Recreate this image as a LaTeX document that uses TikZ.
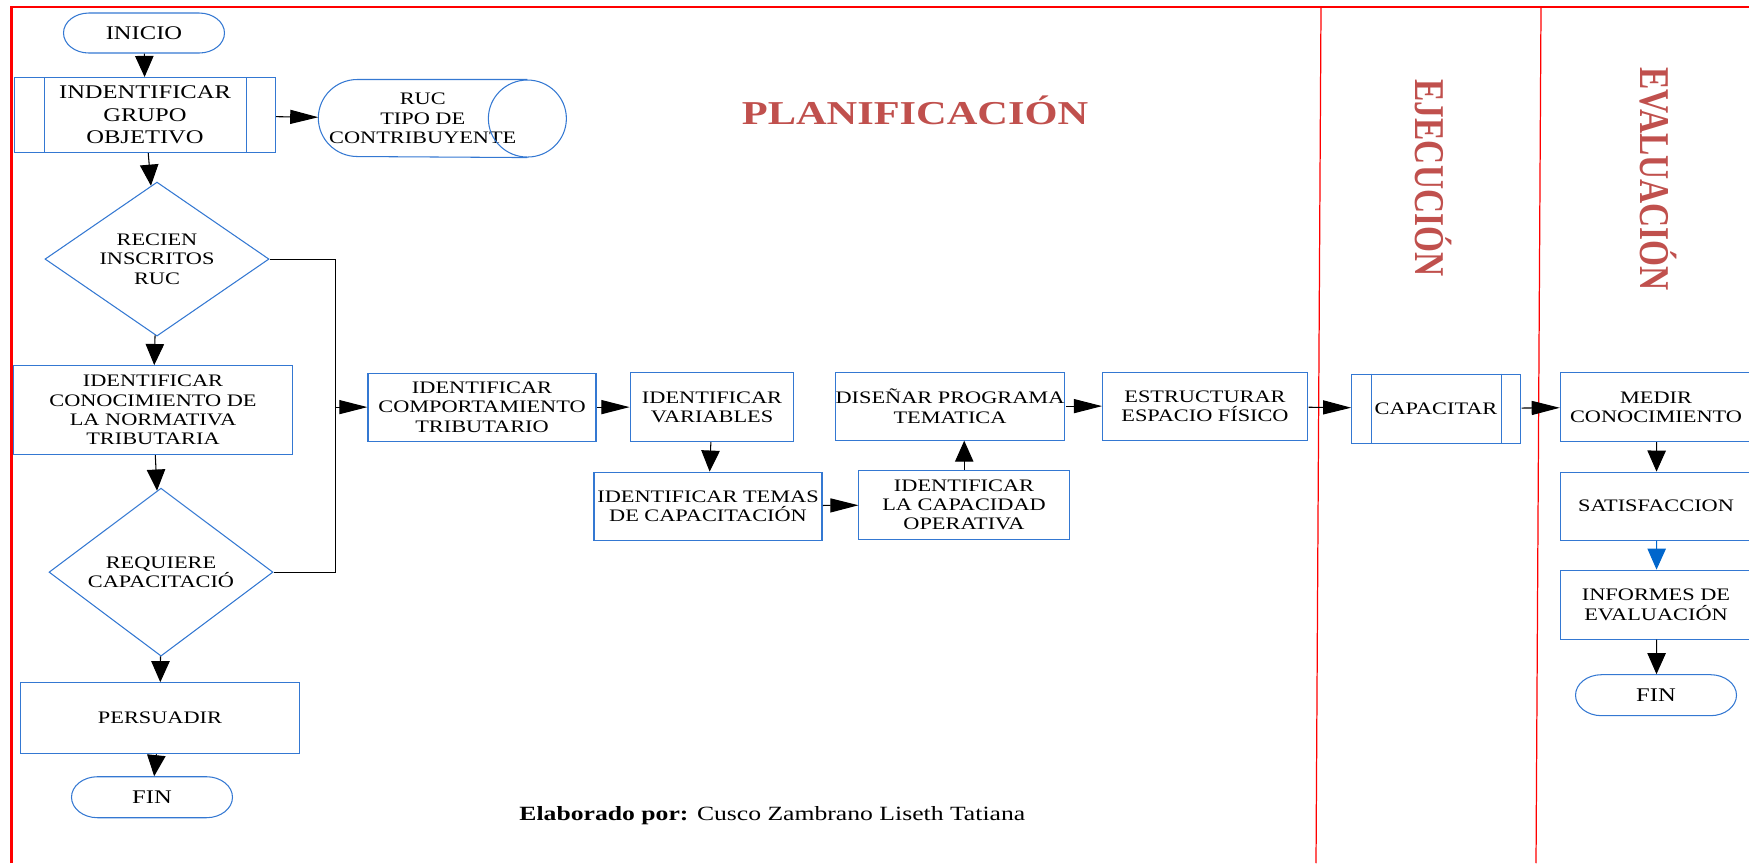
\documentclass[tikz,border=0pt]{standalone}
\usepackage{fontspec}
\setmainfont{Liberation Serif}
\usetikzlibrary{arrows.meta,shapes.geometric,shapes.misc,calc}

\definecolor{boxblue}{RGB}{52,120,210}
\definecolor{linkblue}{RGB}{0,102,204}
\definecolor{phasered}{RGB}{192,80,77}

\tikzset{
  box/.style={draw=boxblue, line width=0.6pt, align=center, inner sep=0pt, font=\fontsize{10}{11}\selectfont},
  term/.style={box, rounded rectangle, font=\fontsize{11}{12}\selectfont, minimum width=2.535cm, minimum height=0.8cm},
  decide/.style={box, diamond, aspect=1.15, minimum width=3.53cm},
  phase/.style={text=phasered, font=\fontsize{19}{20}\selectfont\bfseries, inner sep=0pt},
  arrh/.style={-{Triangle[length=16pt,width=8pt]}, line width=0.6pt},
  arrv/.style={-{Triangle[length=12pt,width=10.5pt]}, line width=0.6pt},
}

\begin{document}
\begin{tikzpicture}[x=0.015748cm, y=-0.02cm, xscale=1.27, every node/.append style={transform shape}]
  \useasboundingbox (0,0) rectangle (1749,863);
  % frame and phase dividers
  \draw[red, line width=1.2pt] (11.5,863) -- (11.5,7) -- (1760,7);
  \draw[red, line width=0.7pt] (1321,7) -- (1316,863)
                               (1541,7) -- (1536,863);
  % phase titles
  \node[phase, anchor=base] (plan) at (915,124) {PLANIFICACIÓN};
  \node[phase, anchor=base, rotate=-90] (ejec) at (1415,178) {EJECUCIÓN};
  \node[phase, anchor=base, rotate=-90] (eval) at (1640,179) {EVALUACIÓN};

  % planificacion
  \node[term] (inicio) at (144,33) {INICIO};
  \node[box, minimum width=4.11cm, minimum height=1.5cm, font=\fontsize{11}{12.8}\selectfont] (grupo) at (145,115) {INDENTIFICAR\\GRUPO\\OBJETIVO};
  \draw[boxblue, line width=0.6pt] ($(grupo.north west)+(31,0)$) -- ($(grupo.south west)+(31,0)$)
                                   ($(grupo.north east)-(30,0)$) -- ($(grupo.south east)-(30,0)$);
  \node[box, draw=none, minimum width=3.27cm, minimum height=1.54cm] (ruc) at (422.75,118.5) {RUC\\TIPO DE\\CONTRIBUYENTE};
  \draw[boxblue, line width=0.6pt] (ruc.north east) -- ($(ruc.north west)+(39,0)$)
        arc[start angle=-90, end angle=-270, x radius=39, y radius=38.5] -- (ruc.south east);
  \draw[boxblue, line width=0.6pt] (ruc.east) ellipse[x radius=39, y radius=38.5];
  \node[decide, minimum height=3.08cm] (recien) at (157,259) {RECIEN\\INSCRITOS\\RUC};
  \node[box, minimum width=4.39cm, minimum height=1.78cm] (conoc) at (153,410) {IDENTIFICAR\\CONOCIMIENTO DE\\LA NORMATIVA\\TRIBUTARIA};
  \node[decide, minimum height=3.36cm] (requiere) at (161,572) {REQUIERE\\CAPACITACIÓ};
  \node[box, minimum width=4.39cm, minimum height=1.42cm] (persuadir) at (160,718) {PERSUADIR};
  \node[term, minimum height=0.82cm] (fin1) at (152,797) {FIN};

  \coordinate (joint) at (335,407);
  \node[box, minimum width=3.59cm, minimum height=1.36cm] (comport) at (482,407) {IDENTIFICAR\\COMPORTAMIENTO\\TRIBUTARIO};
  \node[box, minimum width=2.58cm, minimum height=1.38cm] (variables) at (712,407) {IDENTIFICAR\\VARIABLES};
  \node[box, minimum width=3.59cm, minimum height=1.36cm] (temas) at (708,506) {IDENTIFICAR TEMAS\\DE CAPACITACIÓN};
  \node[box, minimum width=3.31cm, minimum height=1.38cm] (capacidad) at (964,504.5) {IDENTIFICAR\\LA CAPACIDAD\\OPERATIVA};
  \node[box, minimum width=3.62cm, minimum height=1.36cm] (disenar) at (950,406) {DISEÑAR PROGRAMA\\TEMATICA};
  \node[box, minimum width=3.23cm, minimum height=1.36cm] (estruct) at (1205,406) {ESTRUCTURAR\\ESPACIO FÍSICO};

  % ejecucion
  \node[box, minimum width=2.66cm, minimum height=1.38cm] (capacitar) at (1436,408.5) {CAPACITAR};
  \draw[boxblue, line width=0.6pt] ($(capacitar.north west)+(20,0)$) -- ($(capacitar.south west)+(20,0)$)
                                   ($(capacitar.north east)-(20,0)$) -- ($(capacitar.south east)-(20,0)$);

  % evaluacion
  \node[box, minimum width=3.02cm, minimum height=1.38cm] (medir) at (1656,407) {MEDIR\\CONOCIMIENTO};
  \node[box, minimum width=3.02cm, minimum height=1.36cm] (satis) at (1656,506) {SATISFACCION};
  \node[box, minimum width=3.02cm, minimum height=1.38cm] (informes) at (1656,604.5) {INFORMES DE\\EVALUACIÓN};
  \node[term, minimum height=0.82cm] (fin2) at (1656,695) {FIN};

  \node[anchor=base west, inner sep=0pt, font=\fontsize{11.5}{12}\selectfont] (autor) at (519,820) {\textbf{Elaborado por:} Cusco Zambrano Liseth Tatiana};

  % conectores
  \draw[arrv] (inicio) -- (grupo);
  \draw[arrh] (grupo) -- (ruc);
  \draw[arrv] (grupo) -- (recien);
  \draw[arrv] (recien) -- (conoc);
  \draw[arrv] (conoc) -- (requiere);
  \draw[arrv] (requiere) -- (persuadir);
  \draw[arrv] (persuadir) -- (fin1);
  \draw[line width=0.6pt] (recien.east) -| (joint) |- (requiere.east);
  \draw[arrh] (joint) -- (comport);
  \draw[arrh] (comport) -- (variables);
  \draw[arrv] (variables) -- (temas);
  \draw[arrh] (temas) -- (capacidad);
  \draw[arrv] (capacidad.north) -- (capacidad.north |- disenar.south);
  \draw[arrh] (disenar) -- (estruct);
  \draw[arrh] (estruct) -- (capacitar);
  \draw[arrh] (capacitar) -- (medir);
  \draw[arrv] (medir) -- (satis);
  \draw[arrv, draw=linkblue, fill=linkblue] (satis) -- (informes);
  \draw[arrv] (informes) -- (fin2);
\end{tikzpicture}
\end{document}
